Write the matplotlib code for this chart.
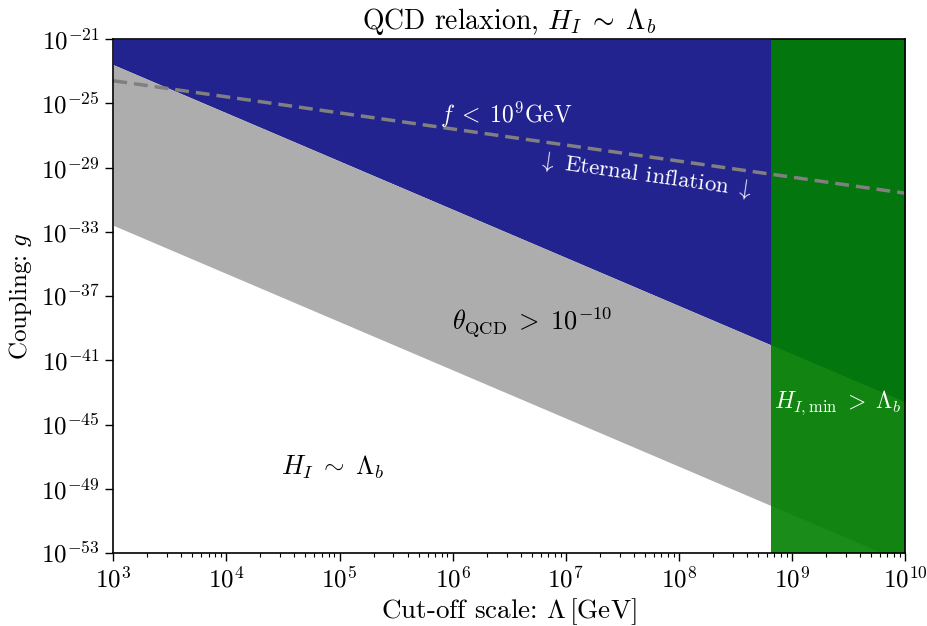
import numpy as np
import matplotlib
matplotlib.use("Agg")
import matplotlib.pyplot as plt

plt.rcParams['font.family'] = 'serif'
plt.rcParams['font.serif'] = ['cmr10']
plt.rcParams['mathtext.fontset'] = 'cm'
plt.rcParams['axes.unicode_minus'] = False
plt.rcParams['axes.formatter.use_mathtext'] = True

# Data (log10 values)
cutoff = [1e3, 1e10]                      # Lambda [GeV]
theta_upper_log = [-22.6, -43.6]          # upper edge of theta_QCD band
theta_lower_log = [-32.6, -53.6]          # lower edge of theta_QCD band
eternal_log = [-23.6, -30.6]              # f < 1e9 GeV / eternal inflation line
hmin_cut = 6.6e8                          # H_I,min > Lambda_b boundary
x_lim = [1e3, 1e10]
y_lim = [1e-53, 1e-21]

theta_upper = [10**v for v in theta_upper_log]
theta_lower = [10**v for v in theta_lower_log]
eternal = [10**v for v in eternal_log]

fig = plt.figure(figsize=(9.28, 6.26), dpi=100)
ax = fig.add_axes([0.1221, 0.1166, 0.9752 - 0.1221, 0.9377 - 0.1166])
ax.set_xscale('log')
ax.set_yscale('log')

ax.fill_between(cutoff, theta_upper, [y_lim[1]] * 2, color='#232390', lw=0, zorder=1)
ax.fill_between(cutoff, theta_lower, theta_upper, color='#adadad', lw=0, zorder=1)
ax.axvspan(hmin_cut, x_lim[1], color='green', alpha=0.9, lw=0, zorder=2)
ax.plot(cutoff, eternal, ls='--', color='gray', lw=2.5, dashes=(4, 2), zorder=3)

ax.set_xlim(x_lim)
ax.set_ylim(y_lim)
ax.set_yticks([10.0**e for e in range(-53, -20, 4)])
ax.yaxis.set_minor_locator(matplotlib.ticker.NullLocator())
ax.xaxis.set_major_locator(matplotlib.ticker.LogLocator(base=10, numticks=20))
ax.xaxis.set_minor_locator(matplotlib.ticker.LogLocator(base=10, subs=np.arange(2, 10), numticks=100))
ax.xaxis.set_minor_formatter(matplotlib.ticker.NullFormatter())

ax.tick_params(which='major', direction='out', length=6, width=1.0, labelsize=18, pad=4)
ax.tick_params(which='minor', direction='out', length=3, width=0.8)
for s in ax.spines.values():
    s.set_linewidth(1.2)
    s.set_zorder(5)

ax.set_title(r'QCD relaxion, $H_I \;\sim\; \Lambda_b$', fontsize=20, pad=7)
ax.set_xlabel(r'Cut-off scale: $\Lambda\,[\mathrm{GeV}]$', fontsize=19.5, labelpad=2)
ax.set_ylabel(r'Coupling: $g$', fontsize=18, labelpad=5)

ax.text(10**6.475, 10**-25.73, r'$f \;<\; 10^9\mathrm{GeV}$', color='white', fontsize=17,
        ha='center', va='center', zorder=6)
ax.text(10**7.70, 10**-29.47, r'$\downarrow$ Eternal inflation $\downarrow$', color='white',
        fontsize=16.5, ha='center', va='center', rotation=-8, rotation_mode='anchor', zorder=6)
ax.text(10**6.70, 10**-38.62, r'$\theta_{\mathrm{QCD}} \;>\; 10^{-10}$', color='black', fontsize=19,
        ha='center', va='center', zorder=6)
ax.text(10**4.94, 10**-47.65, r'$H_I \;\sim\; \Lambda_b$', color='black', fontsize=19,
        ha='center', va='center', zorder=6)
ax.text(10**9.41, 10**-43.67, r'$H_{I,\mathrm{min}} \;>\; \Lambda_b$', color='white', fontsize=17,
        ha='center', va='center', zorder=6)

fig.savefig('out.png', dpi=100)
